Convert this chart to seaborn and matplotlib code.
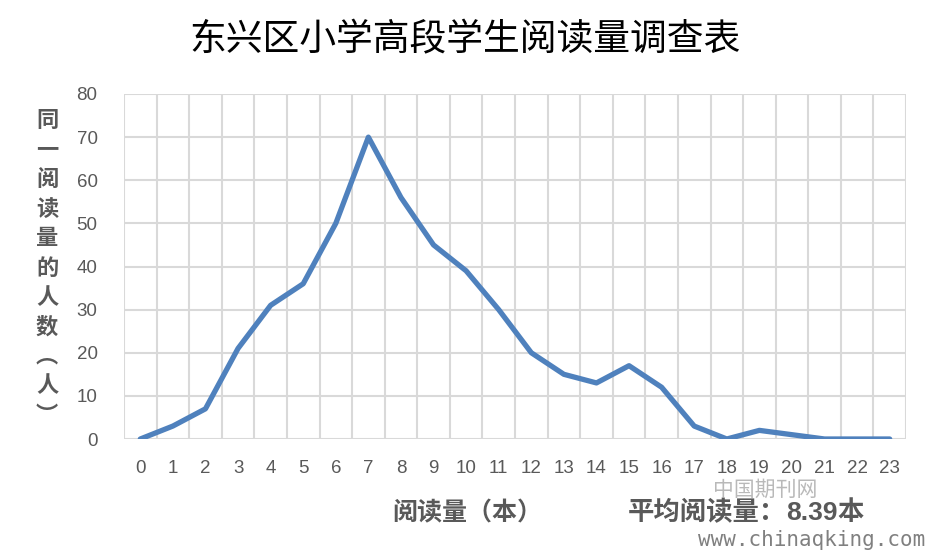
import numpy as np
import pandas as pd
import seaborn as sns
import matplotlib.pyplot as plt

books = list(range(24))
people = [0, 3, 7, 21, 31, 36, 50, 70, 56, 45, 39, 30, 20, 15, 13, 17, 12, 3, 0, 2, 1, 0, 0, 0]
y_ticks = [0, 10, 20, 30, 40, 50, 60, 70, 80]

title = '东兴区小学高段学生阅读量调查表'
ylabel = '同一阅读量的人数︵人︶'
xlabel = '阅读量（本）'

sns.set_theme(style='white')
plt.rcParams['font.family'] = ['Noto Sans CJK SC', 'DejaVu Sans']

df = pd.DataFrame({'books': books, 'people': people})

fig = plt.figure(figsize=(9.3, 5.52), dpi=100)
ax = fig.add_axes([124 / 930, 1 - 439 / 552, 782 / 930, 345 / 552])

sns.lineplot(data=df, x='books', y='people', ax=ax, color='#4F81BD', linewidth=3.8)

ax.set_xlim(-0.5, 23.5)
ax.set_ylim(0, 80)
ax.set_xticks(books)
ax.set_xticks(np.arange(-0.5, 24, 1), minor=True)
ax.set_yticks(y_ticks)
ax.grid(True, which='major', axis='y', color='#D9D9D9', linewidth=1.5)
ax.grid(True, which='minor', axis='x', color='#D9D9D9', linewidth=1.5)
ax.set_axisbelow(True)
for s in ax.spines.values():
    s.set_visible(False)
ax.tick_params(axis='both', which='both', length=0, labelsize=13.5, colors='#595959')
ax.tick_params(axis='x', pad=15)
ax.tick_params(axis='y', pad=19)
for lab in ax.get_xticklabels() + ax.get_yticklabels():
    lab.set_family('Liberation Sans')
ax.set_xlabel('')
ax.set_ylabel('')

fig.text(0.5, 1 - 40 / 552, title, ha='center', va='center', fontsize=26.5, color='black')
fig.text(47 / 930, 1 - 268 / 552, '\n'.join(ylabel), ha='center', va='center',
         fontsize=16, color='#595959', fontweight='bold', linespacing=1.36)
fig.text(467 / 930, 1 - 513 / 552, xlabel, ha='center', va='center',
         fontsize=18, color='#595959', fontweight='bold')

# average reading amount: mixed fonts, placed piece by piece
renderer = fig.canvas.get_renderer()
x = 628
for piece, fam in [('平均阅读量：', None), ('8.39', 'Liberation Sans'), ('本', None)]:
    kw = dict(ha='left', va='center', fontsize=19, color='#595959', fontweight='bold')
    if fam:
        kw['family'] = fam
    t = fig.text(x / 930, 1 - 513 / 552, piece, **kw)
    x = t.get_window_extent(renderer).x1

# watermark
fig.text(765 / 930, 1 - 490 / 552, '中国期刊网', ha='center', va='center',
         fontsize=15, color='#A8A8A8', alpha=0.8)
fig.text(812 / 930, 1 - 540 / 552, 'www.chinaqking.com', ha='center', va='center',
         fontsize=15, color='#808080', family='DejaVu Sans Mono')

fig.savefig('out.png', dpi=100)
